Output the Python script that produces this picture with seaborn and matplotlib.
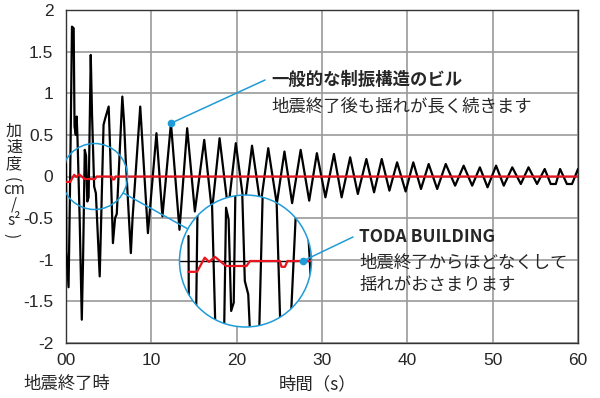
import matplotlib
matplotlib.use("Agg")
import matplotlib.pyplot as plt
import seaborn as sns
import pandas as pd
from matplotlib.patches import Circle, Ellipse
from matplotlib.lines import Line2D

# ---------------- data ----------------
general_t = [0.0, 0.05, 0.3, 0.45, 0.55, 0.7, 0.9, 1.0, 1.15, 1.25, 1.35, 1.6, 1.85, 2.0,
             2.2, 2.35, 2.5, 2.65, 2.9, 3.05, 3.3, 3.5, 3.95, 4.1, 4.4, 4.6, 5.0, 5.15,
             5.5, 5.75, 5.95, 6.6, 6.8, 7.0, 7.6, 7.8, 8.7, 8.9, 9.6, 10.6, 11.3, 12.3,
             13.3, 14.2, 15.1, 16.2, 17.1, 18.0, 19.0, 19.9, 20.9, 21.8, 22.8, 23.7,
             24.7, 25.6, 26.5, 27.5, 28.5, 29.4, 30.4, 31.4, 32.3, 33.3, 34.2, 35.2,
             36.1, 37.0, 37.9, 38.8, 39.8, 40.7, 41.6, 42.5, 43.5, 44.5, 45.6, 46.6,
             47.6, 48.5, 49.4, 50.4, 51.3, 52.3, 53.3, 54.2, 55.2, 56.1, 56.8, 57.4,
             57.9, 58.7, 59.3, 60.0]
general_v = [0.15, -0.9, -1.33, -0.3, 0.5, 1.8, 1.78, 0.6, 0.5, 0.72, 0.45, -0.5, -1.72, -1.0,
             0.32, 0.25, -0.3, -0.25, 1.46, 0.75, -0.12, -0.2, -1.2, -0.6, 0.62, 0.7, 0.84, 0.4,
             -0.8, -0.5, -0.45, 0.96, 0.66, 0.2, -0.92, -0.5, 0.84, 0.5, -0.68, 0.52, -0.48, 0.64,
             -0.64, 0.58, -0.42, 0.44, -0.42, 0.46, -0.4, 0.4, -0.38, 0.37, -0.35, 0.34,
             -0.33, 0.3, -0.32, 0.32, -0.29, 0.28, -0.25, 0.27, -0.25, 0.23, -0.21, 0.21,
             -0.19, 0.21, -0.17, 0.17, -0.18, 0.17, -0.15, 0.15, -0.15, 0.15, -0.11, 0.13,
             -0.11, 0.11, -0.13, 0.13, -0.11, 0.11, -0.09, 0.11, -0.09, 0.09, -0.09, -0.09,
             0.09, -0.09, -0.09, 0.09]

toda_t = [0.0, 0.5, 0.95, 1.2, 1.55, 2.2, 3.4, 3.6, 5.35, 5.45, 5.65, 5.8, 60.0]
toda_v = [-0.065, -0.065, 0.02, -0.005, 0.025, -0.03, -0.03, 0.0, 0.0, -0.035, -0.035, 0.0, 0.0]

x_ticks = [0, 10, 20, 30, 40, 50, 60]
x_tick_labels = ["00", "10", "20", "30", "40", "50", "60"]
y_ticks = [2, 1.5, 1, 0.5, 0, -0.5, -1, -1.5, -2]
y_tick_labels = ["2", "1.5", "1", "0.5", "0", "-0.5", "-1", "-1.5", "-2"]

ylabel_top = "加\n速\n度"
ylabel_unit = "cm\n/\ns²"
ylabel_open, ylabel_close = "(", ")"
xlabel_left = "地震終了時"
xlabel_center = "時間（s）"
general_title = "一般的な制振構造のビル"
general_desc = "地震終了後も揺れが長く続きます"
toda_title = "TODA BUILDING"
toda_desc = ["地震終了からほどなくして", "揺れがおさまります"]

general_mark = (12.3, 0.64)      # peak of the general building series
toda_mark_t = 6.7                 # point on the TODA series (magnified view)

# ---------------- style ----------------
sns.set_style("white")
plt.rcParams["font.family"] = ["Noto Sans CJK JP", "DejaVu Sans"]
TICK_FONT = ["Liberation Sans", "DejaVu Sans"]
BLUE = "#1f9bd7"
RED = "#e8141e"

W, H = 600, 398
fig = plt.figure(figsize=(W / 100, H / 100), dpi=100)

def fx(px):
    return px / W

def fy(py):
    return 1 - py / H

AX_L, AX_R, AX_T, AX_B = 66, 578, 10, 343
ax = fig.add_axes([fx(AX_L), fy(AX_B), (AX_R - AX_L) / W, (AX_B - AX_T) / H])

gen_df = pd.DataFrame({"t": general_t, "v": general_v})
toda_df = pd.DataFrame({"t": toda_t, "v": toda_v})

sns.lineplot(data=gen_df, x="t", y="v", ax=ax, color="black", lw=1.6,
             estimator=None, sort=False, zorder=3)
sns.lineplot(data=toda_df, x="t", y="v", ax=ax, color=RED, lw=1.6,
             estimator=None, sort=False, zorder=4)

ax.set_xlim(0, 60)
ax.set_ylim(-2, 2)
ax.set_xticks(x_ticks)
ax.set_xticklabels(x_tick_labels, fontfamily=TICK_FONT, fontsize=12.5)
ax.set_yticks(y_ticks)
ax.set_yticklabels(y_tick_labels, fontfamily=TICK_FONT, fontsize=12.5)
ax.tick_params(axis="both", length=0)
ax.tick_params(axis="x", pad=7)
ax.tick_params(axis="y", pad=9)
ax.set_xlabel("")
ax.set_ylabel("")
ax.grid(True, color="#9a9a9a", lw=1.2)
ax.set_axisbelow(True)
for s in ax.spines.values():
    s.set_color("#333333")
    s.set_linewidth(1.0)

px_per_s = (AX_R - AX_L) / 60.0
px_per_u = (AX_B - AX_T) / 4.0

# small circle (region to magnify)
SMALL_C = (94.5, 177.0)
R_SMALL = 33.0
MAG = 2.0
tc = (SMALL_C[0] - AX_L) / px_per_s
small = Ellipse((tc, 0), 2 * R_SMALL / px_per_s, 2 * R_SMALL / px_per_u,
                fill=False, edgecolor=BLUE, lw=1.1, zorder=6)
ax.add_patch(small)

# big magnified circle
BIG_C = (245.5, 261.0)
R_BIG = R_SMALL * MAG
ax_in = fig.add_axes([fx(BIG_C[0] - R_BIG), fy(BIG_C[1] + R_BIG), 2 * R_BIG / W, 2 * R_BIG / H])
ax_in.set_xlim(tc - R_SMALL / px_per_s, tc + R_SMALL / px_per_s)
ax_in.set_ylim(-R_SMALL / px_per_u, R_SMALL / px_per_u)
ax_in.axis("off")
ax_in.patch.set_visible(False)
bg = Circle((0.5, 0.5), 0.5, transform=ax_in.transAxes, facecolor="white",
            edgecolor="none", zorder=0)
ax_in.add_patch(bg)
clip = Circle((0.5, 0.5), 0.5, transform=ax_in.transAxes, facecolor="none", edgecolor="none")
ax_in.add_patch(clip)
ax_in.axhline(0, color="black", lw=1.0, zorder=1)
sns.lineplot(data=gen_df, x="t", y="v", ax=ax_in, color="black", lw=1.6,
             estimator=None, sort=False, zorder=2)
sns.lineplot(data=toda_df, x="t", y="v", ax=ax_in, color=RED, lw=1.6,
             estimator=None, sort=False, zorder=3)
ax_in.set_xlabel("")
ax_in.set_ylabel("")
for ln in ax_in.lines:
    ln.set_clip_path(clip)
edge = Circle((0.5, 0.5), 0.5, transform=ax_in.transAxes, facecolor="none",
              edgecolor=BLUE, lw=1.1, zorder=5, clip_on=False)
ax_in.add_patch(edge)

# connecting line between circles
dx, dy = BIG_C[0] - SMALL_C[0], BIG_C[1] - SMALL_C[1]
dn = (dx ** 2 + dy ** 2) ** 0.5
ux, uy = dx / dn, dy / dn
p0 = (SMALL_C[0] + R_SMALL * ux, SMALL_C[1] + R_SMALL * uy)
p1 = (BIG_C[0] - R_BIG * ux, BIG_C[1] - R_BIG * uy)
fig.add_artist(Line2D([fx(p0[0]), fx(p1[0])], [fy(p0[1]), fy(p1[1])],
                      transform=fig.transFigure, color=BLUE, lw=1.1))

# annotation: general building
ax.plot([general_mark[0]], [general_mark[1]], "o", color=BLUE, ms=4.5, zorder=7)
ax.annotate("", xy=general_mark, xycoords="data", xytext=(fx(265), fy(80)),
            textcoords="figure fraction",
            arrowprops=dict(arrowstyle="-", color=BLUE, lw=1.1, shrinkA=0, shrinkB=0))
fig.text(fx(271), fy(80), general_title, fontsize=12.5, fontweight="bold", va="center", ha="left")
fig.text(fx(271), fy(106), general_desc, fontsize=12.5, va="center", ha="left")

# annotation: TODA
ax_in.plot([toda_mark_t], [0], "o", color=BLUE, ms=4.5, zorder=7, clip_on=False)
ax_in.annotate("", xy=(toda_mark_t, 0), xycoords="data", xytext=(fx(353), fy(237)),
               textcoords="figure fraction",
               arrowprops=dict(arrowstyle="-", color=BLUE, lw=1.1, shrinkA=0, shrinkB=0),
               annotation_clip=False)
fig.text(fx(359), fy(237), toda_title, fontsize=12.5, fontweight="bold", va="center", ha="left")
fig.text(fx(359), fy(263), toda_desc[0], fontsize=12.5, va="center", ha="left")
fig.text(fx(359), fy(285), toda_desc[1], fontsize=12.5, va="center", ha="left")

# vertical y label
fig.text(fx(14), fy(172), ylabel_top, fontsize=11.5, ha="center", va="bottom",
         linespacing=0.95, multialignment="center")
fig.text(fx(11), fy(180), ylabel_open, fontsize=11, ha="center", va="center",
         rotation=-90, rotation_mode="anchor")
fig.text(fx(14), fy(205), ylabel_unit, fontsize=11, ha="center", va="center",
         linespacing=0.9, multialignment="center")
fig.text(fx(11), fy(236), ylabel_close, fontsize=11, ha="center", va="center",
         rotation=-90, rotation_mode="anchor")

# x labels
fig.text(fx(23), fy(384), xlabel_left, fontsize=12.5, ha="left", va="center")
fig.text(fx(318), fy(384), xlabel_center, fontsize=12.5, ha="center", va="center")

fig.savefig("out.png", dpi=100)
